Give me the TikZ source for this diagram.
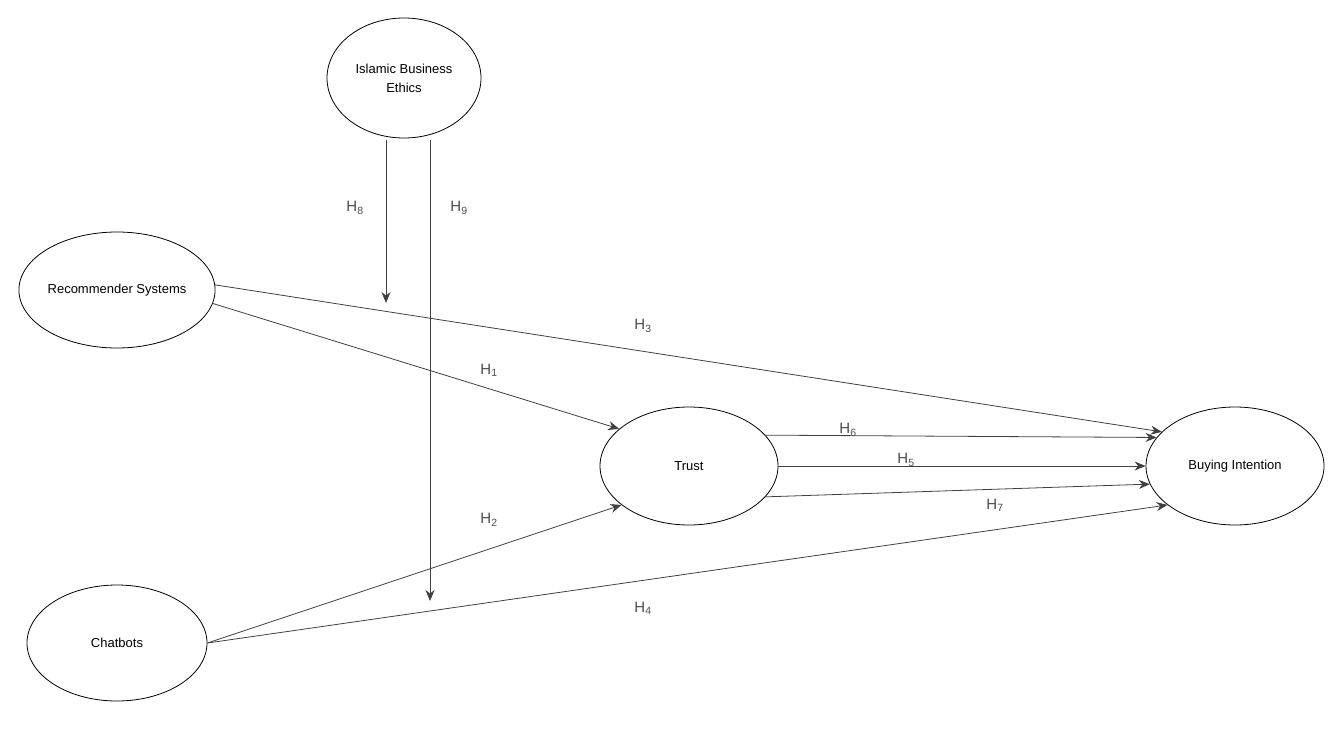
\documentclass[tikz,border=0pt]{standalone}
\usepackage{fontspec}
\setmainfont{Liberation Sans}
\usetikzlibrary{arrows.meta,shapes.geometric}
\begin{document}
\begin{tikzpicture}[x=1pt,y=-1pt,
  ell/.style={draw,thick,ellipse,minimum width=178pt,minimum height=118pt,inner sep=0pt,font=\fontsize{13}{17}\selectfont,align=center},
  arr/.style={draw=black!75,thick,-{Stealth[length=11pt,width=9pt]}},
  hl/.style={font=\fontsize{15}{17}\selectfont,text=black!70}]
\useasboundingbox (0,0) rectangle (1340,736);
\node[ell,minimum width=154pt,minimum height=120pt] (ibe) at (404,78) {Islamic Business\\[2pt]Ethics};
\node[ell,minimum width=180pt,minimum height=116pt] (rs) at (117,290) {Recommender Systems};
\node[ell,minimum width=180pt,minimum height=116pt] (cb) at (117,643) {Chatbots};
\node[ell] (tr) at (689,466) {Trust};
\node[ell] (bi) at (1235,466) {Buying Intention};
\coordinate (h8s) at (386,140); \coordinate (h8e) at (386,303);
\coordinate (h9s) at (430,140); \coordinate (h9e) at (430,601);
\draw[arr] (h8s) -- (h8e);
\draw[arr] (h9s) -- (h9e);
\draw[arr] (rs.-8) -- (tr.152);
\draw[arr] (rs.3) -- (bi.155);
\draw[arr] (cb.east) -- (tr.-150);
\draw[arr] (cb.east) -- (bi.-150);
\draw[arr] (tr.22) -- (bi.160);
\draw[arr] (tr.0) -- (bi.180);
\draw[arr] (tr.-22) -- (bi.-168);
\node[hl] (l8) at (355,208) {H\textsubscript{8}};
\node[hl] (l9) at (459,208) {H\textsubscript{9}};
\node[hl] (l1) at (489,370) {H\textsubscript{1}};
\node[hl] (l3) at (643,326) {H\textsubscript{3}};
\node[hl] (l2) at (489,520) {H\textsubscript{2}};
\node[hl] (l4) at (643,608) {H\textsubscript{4}};
\node[hl] (l6) at (848,430) {H\textsubscript{6}};
\node[hl] (l5) at (906,460) {H\textsubscript{5}};
\node[hl] (l7) at (995,505) {H\textsubscript{7}};
\end{tikzpicture}
\end{document}
